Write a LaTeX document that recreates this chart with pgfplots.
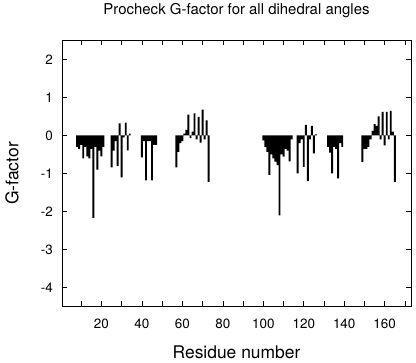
\documentclass[border=0pt]{standalone}
\usepackage{fontspec}
\setmainfont{TeX Gyre Heros}
\usepackage{pgfplots}
\usepackage{pgfplotstable}
\pgfplotsset{compat=1.18}
\pgfplotstableread{
res val
8 -0.30
9 -0.35
10 -0.25
11 -0.60
12 -0.30
13 -0.55
14 -0.60
15 -0.35
16 -2.17
17 -0.30
18 -0.90
19 -0.40
20 -0.55
21 -0.30
25 -0.84
26 -0.40
27 -0.15
28 -0.81
29 0.32
30 -1.10
31 -0.05
32 0.34
33 -0.39
34 0.05
40 -0.58
41 -0.15
42 -1.18
43 -0.15
44 -0.15
45 -1.18
46 -0.25
47 -0.25
57 -0.84
58 -0.43
59 -0.20
60 -0.15
61 0.05
62 0.15
63 0.55
64 -0.07
65 0.10
66 0.58
67 -0.10
68 0.49
69 -0.19
70 0.68
71 -0.10
72 0.40
73 -1.22
100 -0.13
101 -0.30
102 -0.43
103 -1.04
104 -0.50
105 -0.60
106 -0.69
107 -0.78
108 -2.10
109 -0.50
110 -0.56
111 -0.35
112 -0.40
113 -0.68
114 -0.10
117 -1.00
118 -0.20
119 -0.10
120 -0.83
121 0.28
122 -1.20
123 -0.10
124 0.25
125 -0.47
126 0.03
132 -0.30
133 -0.45
134 -1.00
135 -0.30
136 -0.35
137 -1.13
138 -0.20
139 -0.30
149 -0.70
150 -0.35
151 -0.35
152 -0.30
153 -0.10
154 0.12
155 0.30
156 0.25
157 0.50
158 -0.10
159 0.62
160 -0.26
161 0.62
162 -0.10
163 0.65
164 0.10
165 -1.22
}\gdata
\begin{document}
\begin{tikzpicture}
\begin{axis}[
  scale only axis,
  width=349bp, height=266bp,
  xmin=0.5, xmax=173, ymin=-4.5, ymax=2.5,
  xtick={20,40,...,160},
  minor xtick={10,30,...,170},
  ytick={-4,-3,...,2},
  tick align=inside,
  major tick length=5bp, minor tick length=5bp,
  every tick/.style={black, line width=0.6pt},
  axis line style={line width=0.8pt},
  /pgf/number format/assume math mode=true,
  ticklabel style={font=\fontsize{13.5}{14}\selectfont},
  xticklabel style={anchor=base, yshift=-22bp},
  yticklabel style={anchor=east, inner sep=0pt, xshift=-9bp},
  xlabel={Residue number},
  ylabel={G-factor},
  label style={font=\fontsize{17.5}{18}\selectfont},
  xlabel style={at={(axis description cs:0.5,0)}, anchor=base, yshift=-52bp},
  ylabel style={at={([xshift=-50bp]axis description cs:0,0.5)}, anchor=center, rotate=0},
  title={Procheck G-factor for all dihedral angles},
  title style={font=\fontsize{15}{16}\selectfont, at={(axis description cs:0.5,1)}, anchor=base, yshift=20bp},
]
\addplot[ybar, bar width=0.95, fill=black, draw=none] table[x=res, y=val] {\gdata};
\end{axis}
\path ([shift={(-62bp,-54bp)}]current axis.south west) rectangle ([shift={(5bp,40bp)}]current axis.north east);
\end{tikzpicture}
\end{document}
